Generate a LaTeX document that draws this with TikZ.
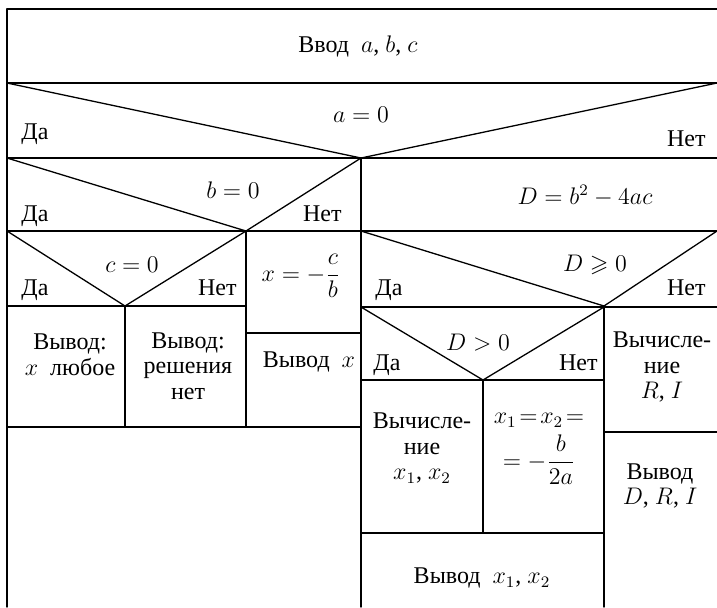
\documentclass[tikz,border=0pt]{standalone}
\usepackage{amsmath,amssymb}
\usepackage[no-math]{fontspec}
\setmainfont{Liberation Serif}
\tikzset{
  ln/.style={line width=0.65pt, line cap=round, line join=round},
  lbl/.style={inner sep=0pt, font=\fontsize{12}{13}\selectfont},
  txt/.style={inner sep=0pt, align=center, font=\fontsize{12}{12.8}\selectfont}
}
\begin{document}
\begin{tikzpicture}[x=0.5pt,y=-0.5pt]
\useasboundingbox (0,0) rectangle (717,607);
% outer frame (open at right and bottom)
\draw[ln] (717,9) -- (7,9) -- (7,607);
% full-width rows
\draw[ln] (7,83) -- (717,83);
\draw[ln] (7,158) -- (717,158);
\draw[ln] (7,231) -- (717,231);
% left part
\draw[ln] (7,306) -- (246,306);
\draw[ln] (246,333) -- (361,333);
\draw[ln] (7,427) -- (361,427);
\draw[ln] (125,306) -- (125,427);
\draw[ln] (246,231) -- (246,427);
% right part
\draw[ln] (361,158) -- (361,607);
\draw[ln] (361,307) -- (717,307);
\draw[ln] (361,380) -- (604,380);
\draw[ln] (361,533) -- (604,533);
\draw[ln] (604,307) -- (604,607);
\draw[ln] (604,432) -- (717,432);
\draw[ln] (483,380) -- (483,533);
% decision diagonals
\draw[ln] (7,83) -- (361,158) -- (717,83);
\draw[ln] (7,158) -- (246,231) -- (361,158);
\draw[ln] (7,231) -- (125,306) -- (246,231);
\draw[ln] (361,231) -- (604,306) -- (717,231);
\draw[ln] (361,307) -- (483,380) -- (604,307);
% texts
\node[lbl] (in) at (358,46) {Ввод\ \ $a$, $b$, $c$};
\node[lbl] (ca) at (361,115) {$a=0$};
\node[lbl,anchor=base west] (ya) at (21,139) {Да};
\node[lbl,anchor=base east] (na) at (706,146) {Нет};
\node[lbl] (cb) at (233,190) {$b=0$};
\node[lbl,anchor=base west] (yb) at (21,221) {Да};
\node[lbl,anchor=base east] (nb) at (342,221) {Нет};
\node[lbl] (dd) at (585,196) {$D=b^2-4ac$};
\node[lbl] (cc) at (132,265) {$c=0$};
\node[lbl,anchor=base west] (yc) at (21,295) {Да};
\node[lbl,anchor=base east] (nc) at (237,295) {Нет};
\node[lbl] (xb) at (301,276) {$x=-\dfrac{c}{b}$};
\node[lbl] (cd) at (595,265) {$D\geqslant 0$};
\node[lbl,anchor=base west] (yd) at (375,295) {Да};
\node[lbl,anchor=base east] (nd) at (706,295) {Нет};
\node[txt] (o1) at (70,355) {Вывод:\\$x$\ \ любое};
\node[txt] (o2) at (188,366) {Вывод:\\решения\\нет};
\node[txt] (o3) at (309,362) {Вывод\ \ $x$};
\node[lbl] (ce) at (478,343) {$D>0$};
\node[lbl,anchor=base west] (ye) at (373,370) {Да};
\node[lbl,anchor=base east] (ne) at (598,370) {Нет};
\node[txt] (ri) at (662,367) {Вычисле-\\ние\\$R$, $I$};
\node[txt] (x12) at (422,448) {Вычисле-\\ние\\$x_1$, $x_2$};
\node[txt] (xe) at (539,449) {$x_1\!=\!x_2\!=$\\[3pt]$=-\dfrac{b}{2a}$};
\node[txt] (odr) at (660,486) {Вывод\\$D$, $R$, $I$};
\node[txt] (ox) at (482,578) {Вывод\ \ $x_1$, $x_2$};
\end{tikzpicture}
\end{document}
